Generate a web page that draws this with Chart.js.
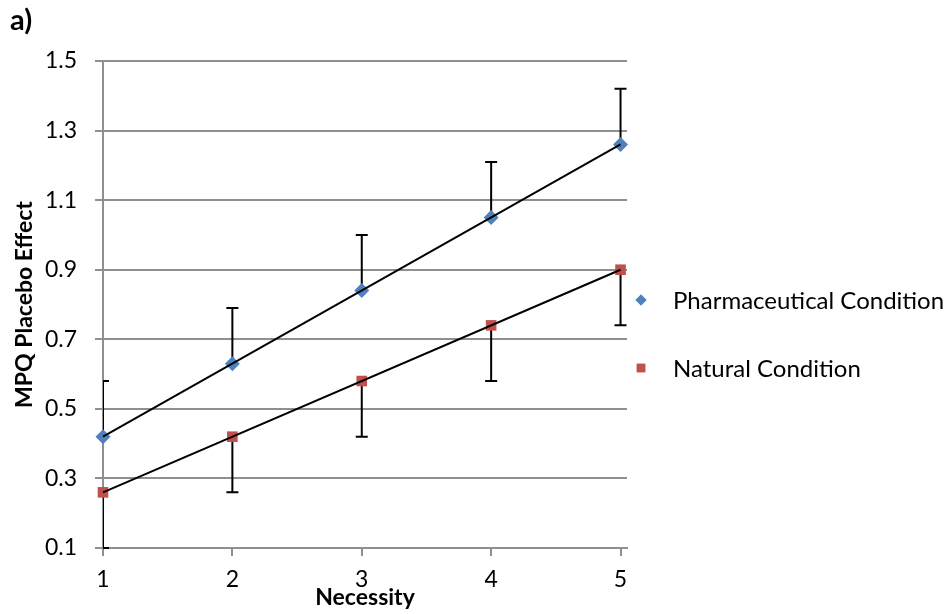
<!DOCTYPE html>
<html>
<head>
<meta charset="utf-8">
<script src="https://cdn.jsdelivr.net/npm/chart.js@4.4.1/dist/chart.umd.min.js"></script>
<style>
  html, body { margin: 0; padding: 0; background: #fff; }
  #wrap { width: 949px; height: 614px; position: relative; }
</style>
</head>
<body>
<div id="wrap"><canvas id="chart"></canvas></div>
<script>
// values
const necessity = [1, 2, 3, 4, 5];
const pharmaceutical = [0.42, 0.63, 0.84, 1.05, 1.26];
const natural = [0.26, 0.42, 0.58, 0.74, 0.90];
const pharmaErrUp = [0.16, 0.16, 0.16, 0.16, 0.16];
const naturalErrDown = [0.16, 0.16, 0.16, 0.16, 0.16];
const xTicks = [1, 2, 3, 4, 5];
const yTicks = [0.1, 0.3, 0.5, 0.7, 0.9, 1.1, 1.3, 1.5];

const blue = '#4F81BD';
const red = '#C0504D';
const gridGray = '#8f8f8f';

Chart.defaults.font.family = 'Lato';
Chart.defaults.color = '#000';

// linear trendline (least squares) like excel's
function trend(xs, ys) {
    let n = xs.length, sx = 0, sy = 0, sxy = 0, sxx = 0;
    for (let i = 0; i < n; i++) {
        sx += xs[i]; sy += ys[i]; sxy += xs[i] * ys[i]; sxx += xs[i] * xs[i];
    }
    let b = (n * sxy - sx * sy) / (n * sxx - sx * sx);
    let a = (sy - b * sx) / n;
    let x0 = xs[0], x1 = xs[n - 1];
    return [{x: x0, y: a + b * x0}, {x: x1, y: a + b * x1}];
}

function points(xs, ys) {
    return xs.map((x, i) => ({x: x, y: ys[i]}));
}

// error bars, one sided (pharma up, natural down)
const errorBars = {
    id: 'errorBars',
    beforeDatasetsDraw(chart) {
        const ctx = chart.ctx;
        const xs = chart.scales.x, ys = chart.scales.y;
        const area = chart.chartArea;
        ctx.save();
        ctx.beginPath();
        ctx.rect(area.left, area.top - 2, area.right - area.left, area.bottom - area.top + 4);
        ctx.clip();
        ctx.strokeStyle = '#000';
        ctx.lineWidth = 2;
        const draw = (vals, errs, dir) => {
            vals.forEach((v, i) => {
                let px = xs.getPixelForValue(necessity[i]);
                let p0 = ys.getPixelForValue(v);
                let p1 = ys.getPixelForValue(v + dir * errs[i]);
                ctx.beginPath();
                ctx.moveTo(px, p0);
                ctx.lineTo(px, p1);
                ctx.moveTo(px - 6, p1);
                ctx.lineTo(px + 6, p1);
                ctx.stroke();
            });
        };
        draw(pharmaceutical, pharmaErrUp, 1);
        draw(natural, naturalErrDown, -1);
        ctx.restore();
    }
};

// "a)" label and the legend on the right
const extras = {
    id: 'extras',
    afterDraw(chart) {
        const ctx = chart.ctx;
        ctx.save();
        ctx.fillStyle = '#000';
        ctx.font = 'bold 29px Lato';
        ctx.textBaseline = 'middle';
        ctx.textAlign = 'left';
        ctx.fillText('a)', 10, 21);

        const items = [
            {label: 'Pharmaceutical Condition', style: 'rectRot', color: blue, r: 5.5, y: 300},
            {label: 'Natural Condition', style: 'rect', color: red, r: 6, y: 368}
        ];
        ctx.font = '24px Lato';
        items.forEach(it => {
            ctx.fillStyle = it.color;
            Chart.helpers.drawPoint(ctx, {pointStyle: it.style, radius: it.r, borderWidth: 0}, 641, it.y);
            ctx.fill();
            ctx.fillStyle = '#000';
            ctx.fillText(it.label, 673, it.y + 1);
        });
        ctx.restore();
    }
};

new Chart(document.getElementById('chart'), {
    type: 'scatter',
    data: {
        datasets: [
            {
                label: 'trend pharma',
                data: trend(necessity, pharmaceutical),
                showLine: true,
                borderColor: '#000',
                borderWidth: 2,
                pointRadius: 0
            },
            {
                label: 'trend natural',
                data: trend(necessity, natural),
                showLine: true,
                borderColor: '#000',
                borderWidth: 2,
                pointRadius: 0
            },
            {
                label: 'Pharmaceutical Condition',
                data: points(necessity, pharmaceutical),
                pointStyle: 'rectRot',
                pointRadius: 7.5,
                pointBackgroundColor: blue,
                pointBorderWidth: 0,
                borderColor: blue
            },
            {
                label: 'Natural Condition',
                data: points(necessity, natural),
                pointStyle: 'rect',
                pointRadius: 7.5,
                pointBackgroundColor: red,
                pointBorderWidth: 0,
                borderColor: red
            }
        ]
    },
    options: {
        responsive: true,
        maintainAspectRatio: false,
        animation: false,
        clip: false,
        layout: { padding: { top: 61, right: 322, bottom: 0, left: 0 } },
        plugins: {
            legend: { display: false },
            tooltip: { enabled: false }
        },
        scales: {
            x: {
                type: 'linear',
                min: 1,
                max: 5.05,
                afterBuildTicks: (scale) => { scale.ticks = xTicks.map(v => ({value: v})); },
                afterFit: (scale) => { scale.height = 66; },
                ticks: {
                    padding: 10,
                    font: { size: 23 },
                    color: '#000'
                },
                grid: {
                    drawOnChartArea: false,
                    drawTicks: true,
                    tickLength: 8,
                    color: gridGray,
                    lineWidth: 2
                },
                border: { display: true, color: gridGray, width: 2 },
                title: {
                    display: true,
                    text: 'Necessity',
                    font: { size: 23, weight: 'bold' },
                    color: '#000',
                    padding: { top: 0, bottom: 3 }
                }
            },
            y: {
                type: 'linear',
                min: 0.1,
                max: 1.5,
                afterBuildTicks: (scale) => { scale.ticks = yTicks.map(v => ({value: v})); },
                afterFit: (scale) => { scale.width = 103; },
                ticks: {
                    padding: 18,
                    font: { size: 23 },
                    color: '#000',
                    callback: (v) => Number(v).toFixed(1)
                },
                grid: {
                    color: gridGray,
                    lineWidth: 2,
                    tickLength: 8
                },
                border: { display: true, color: gridGray, width: 2 },
                title: {
                    display: true,
                    text: 'MPQ Placebo Effect',
                    font: { size: 23, weight: 'bold' },
                    color: '#000',
                    padding: { top: 11, bottom: 0 }
                }
            }
        }
    },
    plugins: [errorBars, extras]
});
</script>
</body>
</html>
